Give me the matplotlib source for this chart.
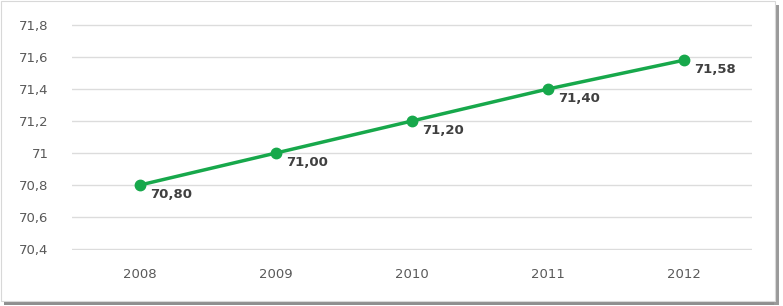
import matplotlib.pyplot as plt
import matplotlib.patches as mpatches
from matplotlib.ticker import FuncFormatter

# dados
anos = ["2008", "2009", "2010", "2011", "2012"]
valores = [70.80, 71.00, 71.20, 71.40, 71.58]
y_ticks = [70.4, 70.6, 70.8, 71.0, 71.2, 71.4, 71.6, 71.8]

verde = "#17a84b"
W, H = 783, 306

fig = plt.figure(figsize=(W / 100, H / 100), dpi=100)
fig.patch.set_facecolor("white")

# moldura com sombra (direita e embaixo)
sombra_baixo = mpatches.Rectangle((4 / W, 1 / H), (W - 8) / W, 5 / H, transform=fig.transFigure,
                                  facecolor="#8f8f8f", edgecolor="none", zorder=-3)
sombra_dir = mpatches.Rectangle(((W - 9) / W, 1 / H), 5 / W, (H - 6) / H, transform=fig.transFigure,
                                facecolor="#9a9a9a", edgecolor="none", zorder=-3)
quadro = mpatches.Rectangle((1 / W, 5 / H), (W - 9) / W, (H - 6) / H, transform=fig.transFigure,
                            facecolor="white", edgecolor="#d8d8d8", linewidth=0.8, zorder=-2)
fig.patches.extend([sombra_baixo, sombra_dir, quadro])

ax = fig.add_axes([72 / W, (H - 250) / H, (752 - 72) / W, (250 - 24) / H])
ax.set_zorder(2)
ax.set_facecolor("none")
x = list(range(len(anos)))
ax.plot(x, valores, color=verde, linewidth=2.5, marker="o", markersize=7.5, zorder=3)

for xi, v in zip(x, valores):
    ax.annotate(f"{v:.2f}".replace(".", ","), (xi, v), xytext=(7, -7), textcoords="offset points",
                ha="left", va="center", fontsize=9.5, fontweight="bold", color="#404040")

ax.set_xlim(-0.5, len(anos) - 0.5)
ax.set_ylim(70.394, 71.806)
ax.set_xticks(x)
ax.set_xticklabels(anos)
ax.set_yticks(y_ticks)
ax.yaxis.set_major_formatter(FuncFormatter(lambda v, p: f"{v:g}".replace(".", ",")))
ax.grid(axis="y", color="#dcdcdc", linewidth=1)
ax.set_axisbelow(True)
for s in ax.spines.values():
    s.set_visible(False)
ax.tick_params(length=0, labelsize=9.5, labelcolor="#595959")
ax.tick_params(axis="y", pad=17)
ax.tick_params(axis="x", pad=13)

fig.savefig("out.png", dpi=100)
